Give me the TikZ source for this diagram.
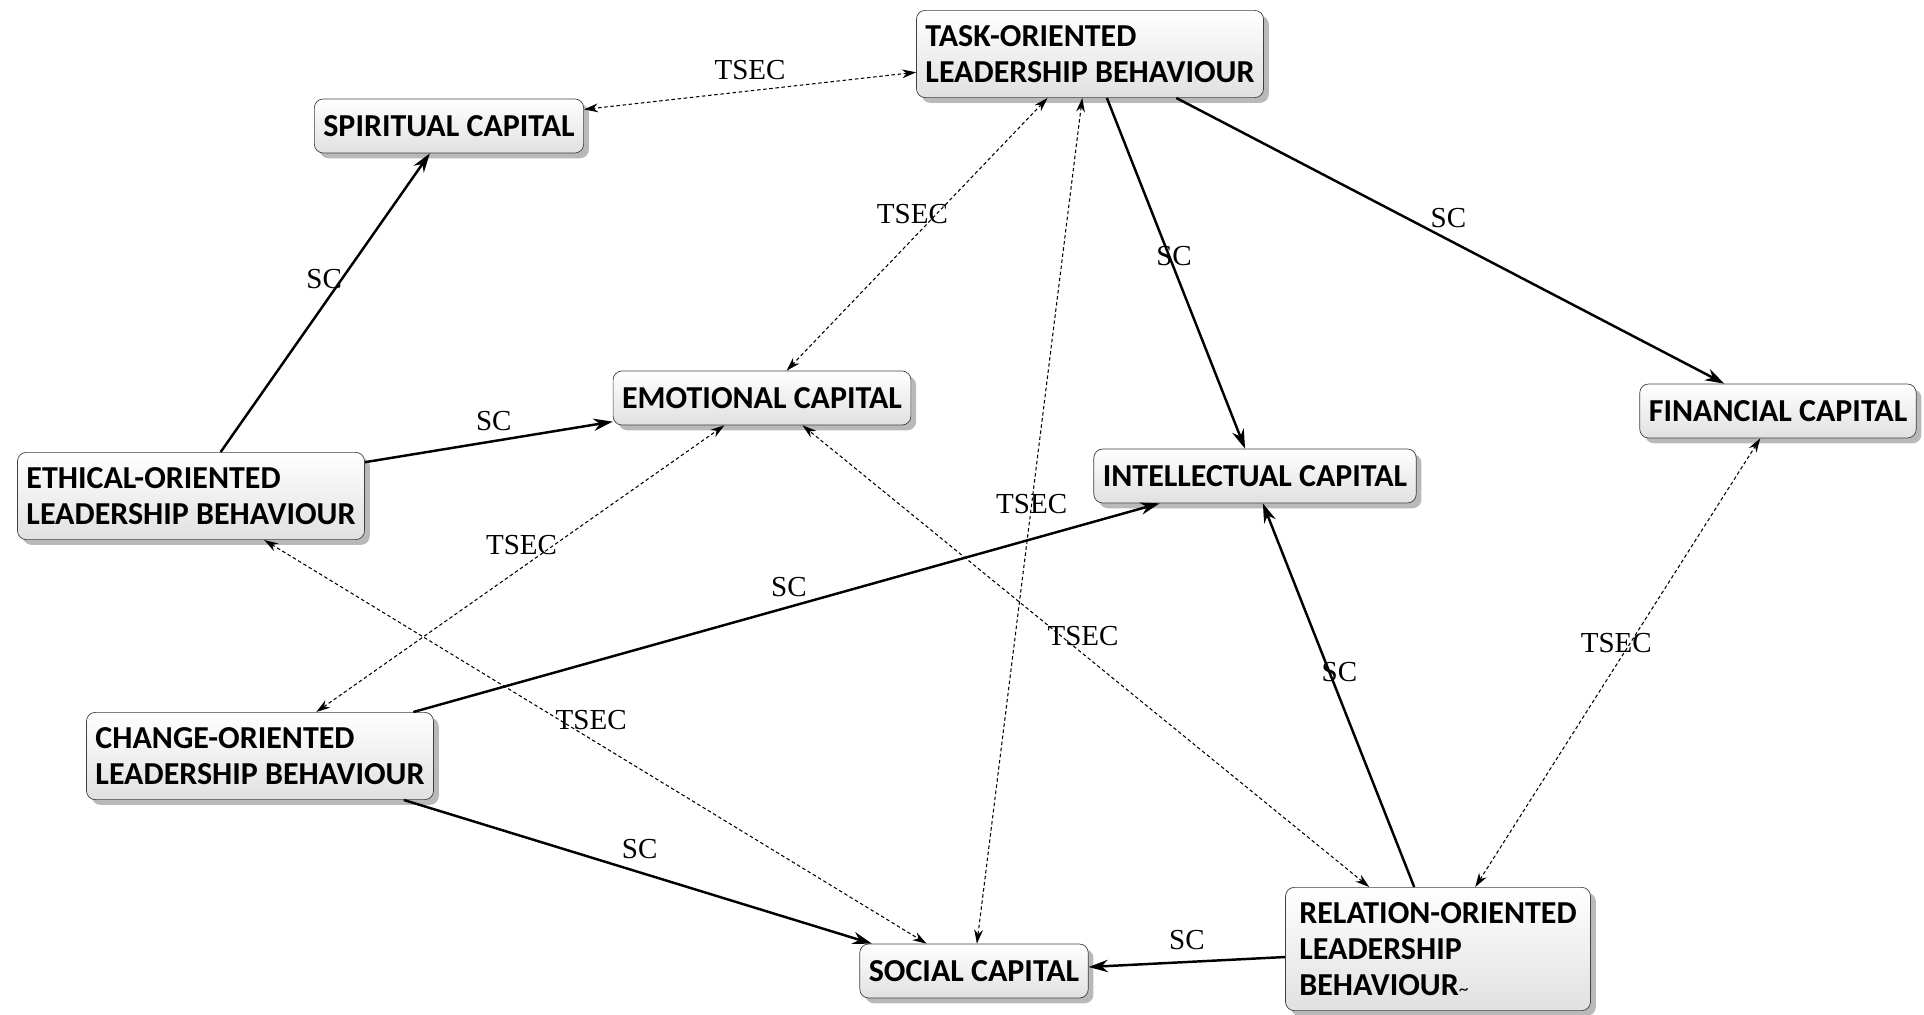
\documentclass[tikz,border=0pt]{standalone}
\usepackage{fontspec}
\setmainfont{Liberation Serif}
\newfontfamily\boxfont{Carlito}
\usetikzlibrary{positioning, shadows, arrows.meta}

\begin{document}
\begin{tikzpicture}[
    capbox/.style={draw=black!75, rounded corners=5pt, top color=white, bottom color=black!12,
        drop shadow={shadow xshift=3pt, shadow yshift=-3pt, fill=black!55},
        align=left, font=\boxfont\bfseries\fontsize{18.2}{20.5}\selectfont,
        inner xsep=0.18cm, inner ysep=0.3cm, minimum height=1.08cm, on grid},
    sc/.style={line width=1.4pt, -{Stealth[length=11pt,width=7pt]}},
    tsec/.style={line width=0.6pt, dash pattern=on 2pt off 1.5pt,
        {Stealth[length=8pt,width=5pt]}-{Stealth[length=8pt,width=5pt]}},
    lbl/.style={font=\fontsize{16.5}{19}\selectfont, inner sep=1pt}
]
\useasboundingbox (0,0) rectangle (38.48,-20.3);
        \node[capbox] (task) at (21.8,-1.08) {TASK-ORIENTED\\LEADERSHIP BEHAVIOUR};
        \node[capbox, below left=1.44cm and 12.82cm of task] (spiritual) {SPIRITUAL CAPITAL};
        \node[capbox, below left=6.88cm and 6.56cm of task] (emotional) {EMOTIONAL CAPITAL};
        \node[capbox, below right=7.14cm and 13.76cm of task] (financial) {FINANCIAL CAPITAL};
        \node[capbox, below right=8.44cm and 3.30cm of task] (intellectual) {INTELLECTUAL CAPITAL};
        \node[capbox, below left=7.40cm and 5.16cm of spiritual] (ethical) {ETHICAL-ORIENTED\\LEADERSHIP BEHAVIOUR};
        \node[capbox, below right=5.20cm and 1.38cm of ethical] (change) {CHANGE-ORIENTED\\LEADERSHIP BEHAVIOUR};
        \node[capbox, below right=11.46cm and 4.24cm of emotional] (social) {SOCIAL CAPITAL};
        \node[capbox, minimum width=6.1cm, above right=0.44cm and 9.28cm of social] (relation) {RELATION-ORIENTED\\LEADERSHIP\\BEHAVIOUR{\mdseries\fontsize{11}{11}\selectfont\textasciitilde}};
        %---------------------------
        \path[sc]
        (ethical.56) edge node[lbl, pos=.55, xshift=-.23cm, yshift=.17cm] {SC} (spiritual.235)
        (ethical.11) edge node[lbl, pos=.52, yshift=.4cm] {SC} (emotional.189)
        (task.291) edge node[lbl, pos=.45, xshift=.1cm] {SC} (intellectual.110)
        (task.333) edge node[lbl, pos=.48, xshift=.18cm, yshift=.34cm] {SC} (financial.153)
        (change.16) edge node[lbl, pos=.51, xshift=-.1cm, yshift=.38cm] {SC} (intellectual.196)
        (change.343) edge node[lbl, pos=.49, xshift=.13cm, yshift=.43cm] {SC} (social.165)
        (relation.183) edge node[lbl, pos=.5, yshift=.44cm] {SC} (social.2)
        (relation.111) edge node[lbl, pos=.55, xshift=.17cm, yshift=.07cm] {SC} (intellectual.286);
        %--------------------------
        \path[tsec]
        (task.186) edge node[lbl, pos=.5, yshift=.42cm] {TSEC} (spiritual.7)
        (task.226) edge node[lbl, pos=.47, xshift=-.25cm, yshift=.24cm] {TSEC} (emotional.48)
        (task.260) edge node[lbl, pos=.48] {TSEC} (social.84)
        (ethical.329) edge node[lbl, pos=.48, xshift=.18cm, yshift=.28cm] {TSEC} (social.150)
        (change.38) edge node[lbl, pos=.53, xshift=-.22cm, yshift=.31cm] {TSEC} (emotional.216)
        (relation.138) edge node[lbl, pos=.52, xshift=.17cm, yshift=.21cm] {TSEC} (emotional.326)
        (relation.59) edge node[lbl, pos=.53, xshift=-.2cm, yshift=.13cm] {TSEC} (financial.237);
\end{tikzpicture}
\end{document}
